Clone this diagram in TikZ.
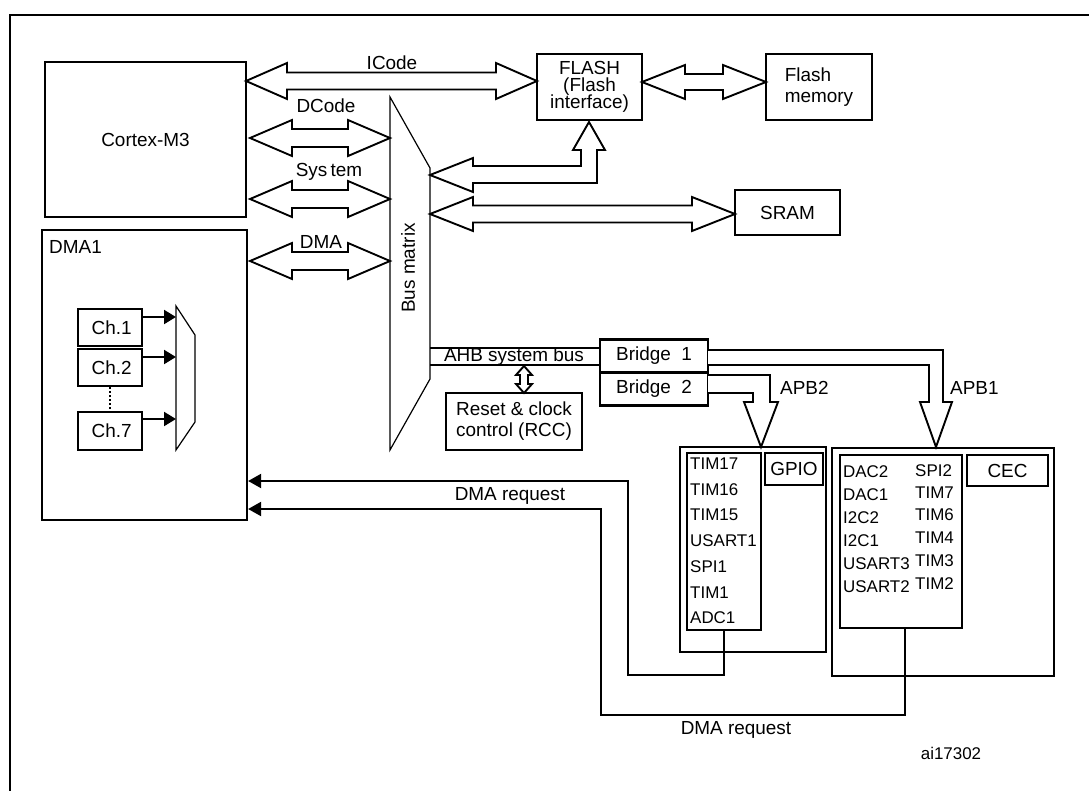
\documentclass[tikz,border=0pt]{standalone}
\usepackage{fontspec}
\setmainfont{Liberation Sans}
\usetikzlibrary{arrows.meta}
\newcommand\fa{\fontsize{19}{21}\selectfont}
\newcommand\fb{\fontsize{17}{19}\selectfont}
\newcommand\hdar[6]{%
\draw[blk] (#1,#3) -- ++(#6,-#5) -- ++(0,#5-#4) -- (#2-#6,#3-#4) -- ++(0,#4-#5) -- (#2,#3) -- ++(-#6,#5) -- ++(0,#4-#5) -- (#1+#6,#3+#4) -- ++(0,#5-#4) -- cycle;}
\tikzset{
 bx/.style={draw,line width=2.2bp,inner sep=0pt,align=center,font=\fa},
 blk/.style={draw,line width=1.9bp,fill=white,line join=miter},
 lbl/.style={font=\fa,inner sep=0pt},
 itm/.style={font=\fb,inner sep=0pt,anchor=west},
 req/.style={line width=2bp,-{Triangle[length=13bp,width=14bp]}},
}
\begin{document}
\begin{tikzpicture}[x=1bp,y=-1bp]
\useasboundingbox (0,0) rectangle (1089,791);
\draw[line width=2bp] (10,791) -- (10,15) -- (1089,15);
% boxes
\node[bx,minimum width=201bp,minimum height=155bp] (cpu) at (145.5,139.5) {Cortex-M3};
\node[bx,minimum width=205bp,minimum height=290bp] (dma) at (144.5,375) {};
\node[lbl,anchor=west] (dmat) at (49,247) {DMA1};
\node[bx,minimum width=105bp,minimum height=66bp] (flash) at (589.5,87) {FLASH\\[-4pt](Flash\\[-4pt]interface)};
\node[bx,minimum width=106bp,minimum height=66bp,align=left] (fmem) at (819,87) {Flash\\memory};
\node[bx,minimum width=105bp,minimum height=45bp] (sram) at (787.5,212.5) {SRAM};
\node[bx,minimum width=108bp,minimum height=33bp] (br1) at (654,356) {Bridge\ \ 1};
\node[bx,minimum width=108bp,minimum height=33bp] (br2) at (654,389) {Bridge\ \ 2};
\node[bx,minimum width=136bp,minimum height=57bp] (rcc) at (514,421.5) {Reset \& clock\\control (RCC)};
% channels
\node[bx,minimum width=64bp,minimum height=37bp] (c1) at (110,327.5) {\,Ch.1};
\node[bx,minimum width=64bp,minimum height=37bp] (c2) at (110,367.5) {\,Ch.2};
\node[bx,minimum width=64bp,minimum height=38bp] (c7) at (110,431) {\,Ch.7};
\draw[line width=2bp,dotted] (c2.south) -- (c7.north);
\draw[line width=1.2bp] (176,306) -- (195,335) -- (195,422) -- (176,450) -- cycle;
\foreach \y in {317,357,419} \draw[line width=2bp,-{Triangle[length=12bp,width=14bp]}] (142,\y) -- (176,\y);
% bus matrix
\draw[line width=1.2bp] (390,97) -- (430,168) -- (430,379) -- (390,450) -- cycle;
\node[lbl,rotate=90] (bm) at (408,268) {Bus matrix};
% double arrows
\hdar{246}{537}{81}{8.5}{18}{41}
\hdar{250}{390}{138}{9}{18}{42}
\hdar{250}{390}{199}{9}{18}{42}
\hdar{250}{390}{261}{9}{18}{42}
\hdar{642}{766}{82}{8}{17}{43}
\hdar{430}{735}{214}{8.5}{17}{43}
\node[lbl] at (392,63) {ICode};
\node[lbl] at (326,106) {DCode};
\node[lbl] at (329,172) {Sys\,tem};
\node[lbl] at (321,242) {DMA};
\draw[blk] (430,175) -- (473,158) -- (473,166) -- (581,166) -- (581,150) -- (573,150) -- (589,122) -- (605,150) -- (597,150) -- (597,183) -- (473,183) -- (473,192) -- cycle;
% AHB
\draw[line width=1.9bp] (430,348) -- (br1.west|-{(0,348)});
\draw[line width=1.9bp] (430,365) -- (br1.west|-{(0,365)});
\node[lbl] at (514,357) {AHB system bus};
\draw[blk] (524,366) -- (532,375) -- (528,375) -- (528,384) -- (532,384) -- (524,393) -- (516,384) -- (520,384) -- (520,375) -- (516,375) -- cycle;
% APB
\draw[blk] (708,350) -- (943,350) -- (943,402) -- (952,402) -- (936,447) -- (920,402) -- (929,402) -- (929,365) -- (708,365);
\draw[blk] (708,375) -- (770,375) -- (770,402) -- (778,402) -- (761,447) -- (744,402) -- (753,402) -- (753,393) -- (708,393);
\node[lbl,anchor=west] at (780,388) {APB2};
\node[lbl,anchor=west] at (950,388) {APB1};
% peripheral boxes
\node[bx,minimum width=146bp,minimum height=205bp] (apb2) at (753,549.5) {};
\node[bx,minimum width=74bp,minimum height=177bp,line width=1.8bp] (l2) at (724,541.5) {};
\node[bx,minimum width=58bp,minimum height=32bp,line width=1.8bp] (gpio) at (794,469) {GPIO};
\node[bx,minimum width=222bp,minimum height=228bp] (apb1) at (943,562) {};
\node[bx,minimum width=122bp,minimum height=173bp,line width=1.8bp] (l1) at (901,541.5) {};
\node[bx,minimum width=81bp,minimum height=31bp,line width=1.8bp] (cec) at (1007.5,470.5) {CEC};
\foreach \t/\y in {TIM17/464,TIM16/490,TIM15/515,USART1/541,SPI1/567,TIM1/593,ADC1/618} \node[itm] at (690,\y) {\t};
\foreach \t/\y in {DAC2/472,DAC1/495,I2C2/518,I2C1/541,USART3/564,USART2/587} \node[itm] at (843,\y) {\t};
\foreach \t/\y in {SPI2/471,TIM7/493,TIM6/515,TIM4/538,TIM3/561,TIM2/584} \node[itm] at (915,\y) {\t};
% DMA requests
\draw[req] (l2.south-|{(724,0)}) -- (724,675) -- (628,675) -- (628,481) -- (dma.east|-{(0,481)});
\draw[req] (l1.south-|{(905,0)}) -- (905,715) -- (601,715) -- (601,509) -- (dma.east|-{(0,509)});
\node[lbl] at (510,496) {DMA request};
\node[lbl] at (736,730) {DMA request};
\node[font=\fb,inner sep=0pt] at (951,753) {ai17302};
\end{tikzpicture}
\end{document}
